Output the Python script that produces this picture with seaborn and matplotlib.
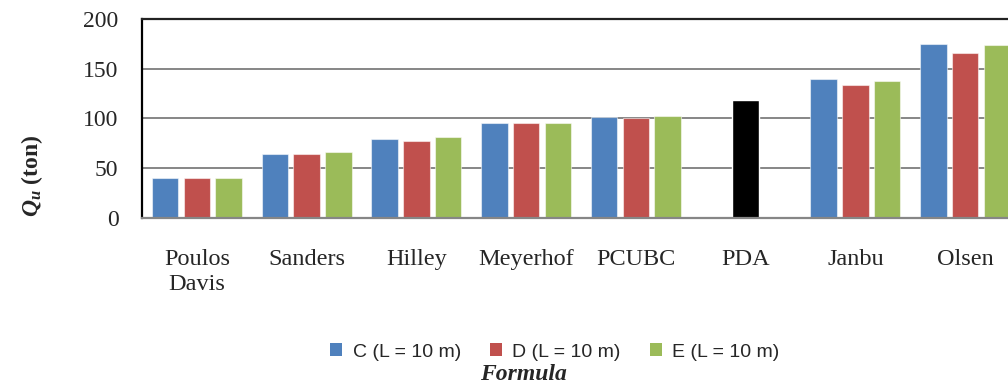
import numpy as np
import pandas as pd
import matplotlib
matplotlib.use('Agg')
import matplotlib.pyplot as plt
import seaborn as sns
from matplotlib.patches import Patch

# values (ton)
cats = ['Poulos\nDavis', 'Sanders', 'Hilley', 'Meyerhof', 'PCUBC', 'PDA', 'Janbu', 'Olsen']
c_vals = [40, 64, 79, 95, 101, np.nan, 140, 175]
d_vals = [40, 64, 77, 95, 100, np.nan, 134, 166]
e_vals = [40, 66, 81, 95, 102, np.nan, 138, 174]
pda_val = 118
series = ['C (L = 10 m)', 'D (L = 10 m)', 'E (L = 10 m)']
colors = ['#4F81BD', '#C0504D', '#9BBB59']
yticks = [0, 50, 100, 150, 200]

sns.set_style('white')
plt.rcParams['font.family'] = ['Liberation Serif', 'DejaVu Serif']
plt.rcParams['mathtext.fontset'] = 'custom'
plt.rcParams['mathtext.rm'] = 'Liberation Serif'
plt.rcParams['mathtext.it'] = 'Liberation Serif:italic'
plt.rcParams['mathtext.bf'] = 'Liberation Serif:bold'
plt.rcParams['mathtext.bfit'] = 'Liberation Serif:italic:bold'

df = pd.DataFrame({'Formula': cats, series[0]: c_vals, series[1]: d_vals, series[2]: e_vals})
long = df.melt(id_vars='Formula', var_name='Series', value_name='Qu').dropna()
pda = pd.DataFrame({'Formula': ['PDA'], 'Qu': [pda_val]})

fig = plt.figure(figsize=(10.08, 3.83), dpi=100)
ax = fig.add_axes([142 / 1008, 1 - 217.5 / 383, 878 / 1008, 198.5 / 383])

ax.yaxis.grid(True, color='#868686', linewidth=1.4)
ax.set_axisbelow(True)

sns.barplot(data=long, x='Formula', y='Qu', hue='Series', order=cats,
            hue_order=series, palette=colors, saturation=1, width=0.87, gap=0.17,
            edgecolor='#ffffff88', linewidth=0.8, legend=False, ax=ax)
sns.barplot(data=pda, x='Formula', y='Qu', order=cats, color='black',
            saturation=1, width=0.24, ax=ax)

ax.set_xlim(-0.5, len(cats) - 0.5)
ax.set_ylim(0, 200)
ax.set_yticks(yticks)
ax.tick_params(axis='y', length=0, pad=17, labelsize=17)
ax.tick_params(axis='x', length=0, pad=23, labelsize=17.5)
ax.set_xlabel('')
ax.set_ylabel('')

ax.spines['right'].set_visible(False)
ax.spines['left'].set_color('black')
ax.spines['left'].set_linewidth(1.6)
ax.spines['top'].set_color('#222222')
ax.spines['top'].set_linewidth(1.6)
ax.spines['bottom'].set_color('#868686')
ax.spines['bottom'].set_linewidth(1.6)

fig.text(32 / 1008, 1 - 176 / 383, r'$\mathbfit{Q_u}$' + ' (ton)', rotation=90,
         ha='center', va='center', fontsize=17, fontweight='bold')

handles = [Patch(facecolor=c, edgecolor='none') for c in colors]
fig.legend(handles, series, loc='center', bbox_to_anchor=(555 / 1008, 1 - 352 / 383),
           ncol=3, frameon=False, handlelength=0.6, handleheight=0.6,
           handletextpad=0.55, columnspacing=1.5,
           prop={'family': 'Liberation Sans', 'size': 14})

fig.text(523 / 1008, 3 / 383, 'Formula', ha='center', va='baseline',
         fontsize=17, fontweight='bold', fontstyle='italic')

fig.savefig('out.png', dpi=100)
